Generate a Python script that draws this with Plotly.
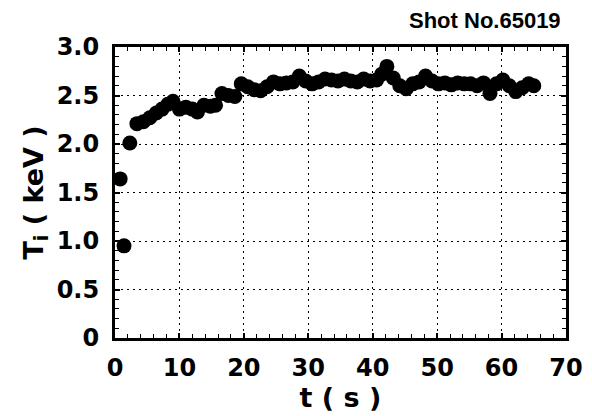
import plotly.graph_objects as go

# Data
time_s = [0.8, 1.4, 2.3, 3.4, 4.4, 5.4, 6.4, 7.3, 8.2, 9.0, 10.0, 11.0, 12.0, 12.8,
          13.8, 14.8, 15.6, 16.6, 17.6, 18.6, 19.6, 20.6, 21.6, 22.6, 23.6, 24.6,
          25.6, 26.6, 27.6, 28.6, 29.6, 30.6, 31.6, 32.6, 33.6, 34.6, 35.6, 36.6,
          37.6, 38.6, 39.6, 40.6, 41.4, 42.2, 43.2, 44.2, 45.2, 46.2, 47.2, 48.2,
          49.2, 50.2, 51.2, 52.2, 53.2, 54.2, 55.2, 56.2, 57.2, 58.2, 59.2, 60.2,
          61.2, 62.2, 63.2, 64.2, 65.0]
ti_kev = [1.64, 0.95, 2.01, 2.21, 2.23, 2.27, 2.32, 2.36, 2.41, 2.44, 2.36, 2.38,
          2.36, 2.33, 2.40, 2.39, 2.40, 2.52, 2.50, 2.49, 2.62, 2.59, 2.56, 2.55,
          2.59, 2.64, 2.62, 2.63, 2.64, 2.70, 2.65, 2.62, 2.64, 2.67, 2.66, 2.65,
          2.67, 2.65, 2.64, 2.67, 2.65, 2.66, 2.72, 2.80, 2.68, 2.60, 2.57, 2.62,
          2.64, 2.70, 2.65, 2.62, 2.63, 2.61, 2.63, 2.62, 2.62, 2.60, 2.63, 2.52,
          2.62, 2.66, 2.60, 2.54, 2.58, 2.62, 2.60]

x_ticks = [0, 10, 20, 30, 40, 50, 60, 70]
y_ticks = [0, 0.5, 1.0, 1.5, 2.0, 2.5, 3.0]
y_tick_labels = ["0", "0.5", "1.0", "1.5", "2.0", "2.5", "3.0"]

TICK_FONT = dict(family="DejaVu Sans", size=24, color="black", weight="bold")
TITLE_FONT = dict(family="DejaVu Sans", size=27, color="black", weight="bold")

fig = go.Figure()
fig.add_trace(go.Scatter(
    x=time_s, y=ti_kev, mode="markers",
    marker=dict(size=15, color="black", line=dict(width=0)),
    cliponaxis=False, showlegend=False,
))

axis_common = dict(
    showline=True, linecolor="black", linewidth=3, mirror="ticks",
    ticks="inside", ticklen=5, tickwidth=1.5, tickcolor="black",
    showgrid=True, gridcolor="black", gridwidth=1.3, griddash="2px,4px",
    zeroline=False, tickfont=TICK_FONT,
)

fig.update_xaxes(
    range=[0, 70], tickvals=x_ticks,
    minor=dict(dtick=2, ticks="inside", ticklen=4, tickwidth=1.2, tickcolor="black", showgrid=False),
    title=dict(text="t ( s )", font=TITLE_FONT, standoff=2),
    ticklabelstandoff=6,
    **axis_common,
)
fig.update_yaxes(
    range=[0, 3.0], tickvals=y_ticks, ticktext=y_tick_labels,
    minor=dict(dtick=0.1, ticks="inside", ticklen=4, tickwidth=1.2, tickcolor="black", showgrid=False),
    title=dict(text="T<sub>i</sub> ( keV )", font=TITLE_FONT, standoff=6),
    ticklabelstandoff=8,
    **axis_common,
)

fig.add_annotation(
    text="Shot No.65019", xref="paper", yref="paper", x=1, y=1,
    xanchor="right", yanchor="bottom", xshift=-3, yshift=12, showarrow=False,
    font=dict(family="Liberation Sans", size=22, color="black", weight="bold"),
)

fig.update_layout(
    width=592, height=416,
    margin=dict(l=115, r=26, t=47, b=78, autoexpand=False),
    paper_bgcolor="white", plot_bgcolor="white",
)

fig.write_html("out.html")
